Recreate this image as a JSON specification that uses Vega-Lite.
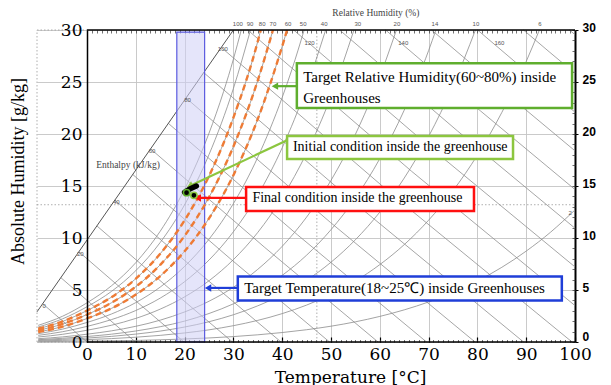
{
  "$schema": "https://vega.github.io/schema/vega-lite/v6.json",
  "width": 538,
  "height": 312,
  "autosize": {"type": "none"},
  "padding": {"left": 37, "top": 30, "right": 36, "bottom": 43},
  "background": "white",
  "config": {"view": {"stroke": null}},
  "resolve": {"axis": {"x": "independent", "y": "independent"}},
  "datasets": {
    "rh": [
      {"rh":100,"T":-10,"w":1.60},{"rh":100,"T":-5,"w":2.48},{"rh":100,"T":0,"w":3.77},{"rh":100,"T":5,"w":5.40},{"rh":100,"T":10,"w":7.63},{"rh":100,"T":15,"w":10.65},{"rh":100,"T":20,"w":14.70},{"rh":100,"T":25,"w":20.08},{"rh":100,"T":28,"w":24.10},{"rh":100,"T":30,"w":27.20},{"rh":100,"T":31.6,"w":30},
      {"rh":90,"T":-10,"w":1.44},{"rh":90,"T":-5,"w":2.23},{"rh":90,"T":0,"w":3.39},{"rh":90,"T":5,"w":4.86},{"rh":90,"T":10,"w":6.86},{"rh":90,"T":15,"w":9.57},{"rh":90,"T":20,"w":13.20},{"rh":90,"T":25,"w":18.02},{"rh":90,"T":30,"w":24.38},{"rh":90,"T":33.5,"w":30},
      {"rh":80,"T":-10,"w":1.28},{"rh":80,"T":-5,"w":1.98},{"rh":80,"T":0,"w":3.02},{"rh":80,"T":5,"w":4.31},{"rh":80,"T":10,"w":6.09},{"rh":80,"T":15,"w":8.49},{"rh":80,"T":20,"w":11.70},{"rh":80,"T":25,"w":15.96},{"rh":80,"T":30,"w":21.58},{"rh":80,"T":35,"w":28.92},{"rh":80,"T":35.6,"w":30},
      {"rh":70,"T":-10,"w":1.12},{"rh":70,"T":-5,"w":1.73},{"rh":70,"T":0,"w":2.64},{"rh":70,"T":5,"w":3.77},{"rh":70,"T":10,"w":5.32},{"rh":70,"T":15,"w":7.42},{"rh":70,"T":20,"w":10.21},{"rh":70,"T":25,"w":13.92},{"rh":70,"T":30,"w":18.80},{"rh":70,"T":35,"w":25.16},{"rh":70,"T":38.1,"w":30},
      {"rh":60,"T":-10,"w":0.96},{"rh":60,"T":-5,"w":1.48},{"rh":60,"T":0,"w":2.26},{"rh":60,"T":5,"w":3.23},{"rh":60,"T":10,"w":4.56},{"rh":60,"T":15,"w":6.34},{"rh":60,"T":20,"w":8.73},{"rh":60,"T":25,"w":11.89},{"rh":60,"T":30,"w":16.04},{"rh":60,"T":35,"w":21.45},{"rh":60,"T":40,"w":28.44},{"rh":60,"T":41.0,"w":30},
      {"rh":50,"T":-10,"w":0.80},{"rh":50,"T":-5,"w":1.24},{"rh":50,"T":0,"w":1.88},{"rh":50,"T":5,"w":2.69},{"rh":50,"T":10,"w":3.79},{"rh":50,"T":15,"w":5.28},{"rh":50,"T":20,"w":7.27},{"rh":50,"T":25,"w":9.88},{"rh":50,"T":30,"w":13.31},{"rh":50,"T":35,"w":17.77},{"rh":50,"T":40,"w":23.52},{"rh":50,"T":42,"w":26.22},{"rh":50,"T":44.5,"w":30},
      {"rh":40,"T":-10,"w":0.64},{"rh":40,"T":-5,"w":0.99},{"rh":40,"T":0,"w":1.50},{"rh":40,"T":5,"w":2.15},{"rh":40,"T":10,"w":3.03},{"rh":40,"T":15,"w":4.22},{"rh":40,"T":20,"w":5.80},{"rh":40,"T":25,"w":7.88},{"rh":40,"T":30,"w":10.60},{"rh":40,"T":35,"w":14.13},{"rh":40,"T":40,"w":18.68},{"rh":40,"T":45,"w":24.48},{"rh":40,"T":48.9,"w":30},
      {"rh":30,"T":-10,"w":0.48},{"rh":30,"T":-5,"w":0.74},{"rh":30,"T":0,"w":1.13},{"rh":30,"T":5,"w":1.61},{"rh":30,"T":10,"w":2.27},{"rh":30,"T":15,"w":3.16},{"rh":30,"T":20,"w":4.34},{"rh":30,"T":25,"w":5.89},{"rh":30,"T":30,"w":7.92},{"rh":30,"T":35,"w":10.54},{"rh":30,"T":40,"w":13.90},{"rh":30,"T":45,"w":18.18},{"rh":30,"T":50,"w":23.61},{"rh":30,"T":54.7,"w":30},
      {"rh":20,"T":-10,"w":0.32},{"rh":20,"T":-5,"w":0.49},{"rh":20,"T":0,"w":0.75},{"rh":20,"T":5,"w":1.07},{"rh":20,"T":10,"w":1.51},{"rh":20,"T":15,"w":2.10},{"rh":20,"T":20,"w":2.89},{"rh":20,"T":25,"w":3.92},{"rh":20,"T":30,"w":5.26},{"rh":20,"T":35,"w":6.99},{"rh":20,"T":40,"w":9.20},{"rh":20,"T":45,"w":12.01},{"rh":20,"T":50,"w":15.54},{"rh":20,"T":55,"w":19.97},{"rh":20,"T":60,"w":25.50},{"rh":20,"T":63.4,"w":30},
      {"rh":14,"T":-10,"w":0.22},{"rh":14,"T":0,"w":0.53},{"rh":14,"T":5,"w":0.75},{"rh":14,"T":10,"w":1.06},{"rh":14,"T":15,"w":1.47},{"rh":14,"T":20,"w":2.01},{"rh":14,"T":25,"w":2.74},{"rh":14,"T":30,"w":3.67},{"rh":14,"T":35,"w":4.87},{"rh":14,"T":40,"w":6.41},{"rh":14,"T":45,"w":8.35},{"rh":14,"T":50,"w":10.80},{"rh":14,"T":55,"w":13.84},{"rh":14,"T":60,"w":17.63},{"rh":14,"T":65,"w":22.29},{"rh":14,"T":70,"w":28.02},{"rh":14,"T":71.5,"w":30},
      {"rh":10,"T":-10,"w":0.16},{"rh":10,"T":0,"w":0.38},{"rh":10,"T":5,"w":0.54},{"rh":10,"T":10,"w":0.76},{"rh":10,"T":15,"w":1.05},{"rh":10,"T":20,"w":1.44},{"rh":10,"T":25,"w":1.95},{"rh":10,"T":30,"w":2.62},{"rh":10,"T":35,"w":3.48},{"rh":10,"T":40,"w":4.56},{"rh":10,"T":45,"w":5.94},{"rh":10,"T":50,"w":7.67},{"rh":10,"T":55,"w":9.83},{"rh":10,"T":60,"w":12.49},{"rh":10,"T":65,"w":15.76},{"rh":10,"T":70,"w":19.76},{"rh":10,"T":75,"w":24.63},{"rh":10,"T":79.6,"w":30},
      {"rh":6,"T":-10,"w":0.10},{"rh":6,"T":0,"w":0.23},{"rh":6,"T":10,"w":0.46},{"rh":6,"T":20,"w":0.87},{"rh":6,"T":25,"w":1.17},{"rh":6,"T":30,"w":1.57},{"rh":6,"T":35,"w":2.08},{"rh":6,"T":40,"w":2.73},{"rh":6,"T":45,"w":3.55},{"rh":6,"T":50,"w":4.58},{"rh":6,"T":55,"w":5.86},{"rh":6,"T":60,"w":7.44},{"rh":6,"T":65,"w":9.36},{"rh":6,"T":70,"w":11.71},{"rh":6,"T":75,"w":14.55},{"rh":6,"T":80,"w":17.97},{"rh":6,"T":85,"w":22.07},{"rh":6,"T":90,"w":26.97},{"rh":6,"T":92.7,"w":30},
      {"rh":2,"T":-10,"w":0.03},{"rh":2,"T":0,"w":0.08},{"rh":2,"T":10,"w":0.15},{"rh":2,"T":20,"w":0.29},{"rh":2,"T":30,"w":0.52},{"rh":2,"T":40,"w":0.91},{"rh":2,"T":45,"w":1.18},{"rh":2,"T":50,"w":1.52},{"rh":2,"T":55,"w":1.94},{"rh":2,"T":60,"w":2.46},{"rh":2,"T":65,"w":3.09},{"rh":2,"T":70,"w":3.85},{"rh":2,"T":75,"w":4.78},{"rh":2,"T":80,"w":5.87},{"rh":2,"T":85,"w":7.18},{"rh":2,"T":90,"w":8.74},{"rh":2,"T":95,"w":10.56},{"rh":2,"T":100,"w":12.70}
    ],
    "enth": [
      {"h":0,"T":-9.09,"w":3.68},{"h":0,"T":-4.5,"w":1.82},{"h":0,"T":0,"w":0},
      {"h":10,"T":-5.37,"w":6.19},{"h":10,"T":2.3,"w":3.07},{"h":10,"T":9.94,"w":0},
      {"h":20,"T":-1.67,"w":8.68},{"h":20,"T":9.1,"w":4.31},{"h":20,"T":19.88,"w":0},
      {"h":30,"T":2.03,"w":11.16},{"h":30,"T":15.9,"w":5.53},{"h":30,"T":29.82,"w":0},
      {"h":40,"T":5.70,"w":13.64},{"h":40,"T":22.7,"w":6.75},{"h":40,"T":39.76,"w":0},
      {"h":50,"T":9.37,"w":16.11},{"h":50,"T":29.5,"w":7.95},{"h":50,"T":49.70,"w":0},
      {"h":60,"T":13.03,"w":18.57},{"h":60,"T":36.3,"w":9.14},{"h":60,"T":59.64,"w":0},
      {"h":70,"T":16.67,"w":21.02},{"h":70,"T":43.1,"w":10.32},{"h":70,"T":69.58,"w":0},
      {"h":80,"T":20.30,"w":23.46},{"h":80,"T":49.9,"w":11.49},{"h":80,"T":79.52,"w":0},
      {"h":90,"T":23.92,"w":25.90},{"h":90,"T":56.7,"w":12.65},{"h":90,"T":89.46,"w":0},
      {"h":100,"T":27.52,"w":28.32},{"h":100,"T":63.5,"w":13.79},{"h":100,"T":99.40,"w":0},
      {"h":110,"T":32.93,"w":30},{"h":110,"T":66.5,"w":16.42},{"h":110,"T":100,"w":3.50},
      {"h":120,"T":42.35,"w":30},{"h":120,"T":71.2,"w":18.37},{"h":120,"T":100,"w":7.22},
      {"h":130,"T":51.77,"w":30},{"h":130,"T":75.9,"w":20.30},{"h":130,"T":100,"w":10.94},
      {"h":140,"T":61.19,"w":30},{"h":140,"T":80.6,"w":22.23},{"h":140,"T":100,"w":14.66},
      {"h":150,"T":70.61,"w":30},{"h":150,"T":85.3,"w":24.13},{"h":150,"T":100,"w":18.38},
      {"h":160,"T":80.03,"w":30},{"h":160,"T":90.0,"w":26.03},{"h":160,"T":100,"w":22.10},
      {"h":170,"T":89.45,"w":30},{"h":170,"T":94.7,"w":27.91},{"h":170,"T":100,"w":25.83},
      {"h":180,"T":98.87,"w":30},{"h":180,"T":100,"w":29.55}
    ],
    "hscale": [{"T":-10.25,"w":2.90},{"T":30,"w":30}],
    "hlab": [
      {"label":"0","T":-9.09,"w":3.68},{"label":"20","T":-1.67,"w":8.68},{"label":"40","T":5.70,"w":13.64},
      {"label":"60","T":13.03,"w":18.57},{"label":"80","T":20.30,"w":23.46},{"label":"100","T":27.52,"w":28.32},
      {"label":"120","T":45.3,"w":28.9},{"label":"140","T":64.5,"w":28.9},{"label":"160","T":84.2,"w":28.9}
    ],
    "rhlab": [
      {"label":"100","T":30.9,"w":30.6},{"label":"90","T":33.4,"w":30.6},{"label":"80","T":35.9,"w":30.6},
      {"label":"70","T":38.1,"w":30.6},{"label":"60","T":41.2,"w":30.6},{"label":"50","T":44.3,"w":30.6},
      {"label":"40","T":48.6,"w":30.6},{"label":"30","T":55.5,"w":30.6},{"label":"20","T":63.5,"w":30.6},
      {"label":"14","T":71.3,"w":30.6},{"label":"10","T":79.7,"w":30.6},{"label":"6","T":92.8,"w":30.6},
      {"label":"2","T":99.0,"w":12.4}
    ],
    "captions": [
      {"label":"Relative Humidity (%)","T":59.2,"w":31.6},
      {"label":"Enthalpy (kJ/kg)","T":8.4,"w":17.0}
    ],
    "frame": [
      {"kind":"solid","T":0,"T2":100,"w":30,"w2":30},
      {"kind":"solid","T":0,"T2":100,"w":0,"w2":0},
      {"kind":"dot","T":-10.25,"T2":0,"w":30,"w2":30},
      {"kind":"dot","T":-10.25,"T2":0,"w":0,"w2":0},
      {"kind":"dot","T":-10.25,"T2":-10.25,"w":0,"w2":30},
      {"kind":"dot","T":-10.25,"T2":100,"w":13.2,"w2":13.2},
      {"kind":"dot","T":47.1,"T2":47.1,"w":0,"w2":30}
    ],
    "band": [{"T":18.4,"T2":24.1,"w":0,"w2":29.8}],
    "boxes": [
      {"box":1,"T":43.0,"T2":99.4,"w":22.5,"w2":26.8},
      {"box":2,"T":41.0,"T2":87.3,"w":17.6,"w2":19.8},
      {"box":3,"T":32.6,"T2":79.3,"w":12.6,"w2":14.9},
      {"box":4,"T":30.9,"T2":97.3,"w":4.0,"w2":6.3}
    ],
    "notes": [
      {"box":1,"label":"Target Relative Humidity(60~80%) inside","T":44.3,"w":25.5},
      {"box":1,"label":"Greenhouses","T":44.3,"w":23.5},
      {"box":2,"label":"Initial condition inside the greenhouse","T":42.2,"w":18.75},
      {"box":3,"label":"Final condition inside the greenhouse","T":33.9,"w":13.8},
      {"box":4,"label":"Target Temperature(18~25℃) inside Greenhouses","T":32.2,"w":5.15}
    ],
    "arrows": [
      {"box":1,"T":43.0,"w":24.6},{"box":1,"T":38.6,"w":24.6},
      {"box":2,"T":41.0,"w":19.4},{"box":2,"T":21.05,"w":15.0},
      {"box":3,"T":32.6,"w":13.85},{"box":3,"T":22.7,"w":13.85},
      {"box":4,"T":30.9,"w":5.2},{"box":4,"T":24.8,"w":5.2}
    ],
    "heads": [
      {"box":1,"T":38.5,"w":24.6},
      {"box":2,"T":21.05,"w":15.0},
      {"box":3,"T":22.7,"w":13.85},
      {"box":4,"T":24.8,"w":5.2}
    ],
    "path": [{"T":20.0,"w":14.4},{"T":21.0,"w":14.7},{"T":22.4,"w":15.0}],
    "states": [
      {"state":"initial","T":20.4,"w":14.36},
      {"state":"final","T":21.9,"w":14.1}
    ]
  },
  "layer": [
    {
      "data": {"name": "frame"},
      "transform": [{"filter": "datum.kind === 'dot'"}],
      "mark": {"type": "rule", "color": "#9a9a9a", "strokeWidth": 0.8, "strokeDash": [1.5, 2]},
      "encoding": {
        "x": {"field": "T", "type": "quantitative", "scale": {"domain": [-10.25, 100], "nice": false, "zero": false},
          "axis": {"orient": "bottom", "values": [0,10,20,30,40,50,60,70,80,90,100], "ticks": false, "domain": false, "grid": true, "gridColor": "#c4c4c4", "gridWidth": 0.9,
            "labelFont": "DejaVu Serif", "labelFontSize": 17, "labelColor": "#000", "labelPadding": 4, "labelFlush": false,
            "title": "Temperature [°C]", "titleFont": "DejaVu Serif", "titleFontSize": 17, "titleFontWeight": "normal", "titleColor": "#000",
            "titleX": 313, "titleY": 35, "titleBaseline": "middle", "titleAlign": "center"}},
        "x2": {"field": "T2"},
        "y": {"field": "w", "type": "quantitative", "scale": {"domain": [0, 30], "nice": false, "zero": false},
          "axis": {"orient": "right", "values": [0,5,10,15,20,25,30], "labelFont": "Liberation Sans", "labelFontSize": 12, "labelFontWeight": "bold", "labelColor": "#000",
            "labelPadding": 4, "labelOffset": {"condition": {"test": "datum.value === 0", "value": -6}, "value": -2.5}, "labelFlush": false, "ticks": true, "tickSize": 3, "tickColor": "#000", "domain": true, "domainColor": "#000", "domainWidth": 2,
            "grid": true, "gridColor": "#c4c4c4", "gridWidth": 0.9, "title": null}},
        "y2": {"field": "w2"}
      }
    },
    {
      "data": {"name": "enth"},
      "mark": {"type": "line", "color": "#8f8f8f", "strokeWidth": 0.8},
      "encoding": {
        "x": {"field": "T", "type": "quantitative", "scale": {"domain": [-10.25, 100], "nice": false, "zero": false},
          "axis": {"orient": "bottom", "values": [0,10,20,30,40,50,60,70,80,90,100], "labels": false, "domain": false, "grid": false, "ticks": true, "tickSize": -5, "tickColor": "#000", "tickWidth": 1.2, "title": null}},
        "y": {"field": "w", "type": "quantitative", "scale": {"domain": [0, 30], "nice": false, "zero": false},
          "axis": {"orient": "right", "values": [0,1,2,3,4,5,6,7,8,9,10,11,12,13,14,15,16,17,18,19,20,21,22,23,24,25,26,27,28,29,30], "labels": false, "domain": false, "grid": false, "ticks": true, "tickSize": -3, "tickColor": "#333", "tickWidth": 0.7, "title": null}},
        "detail": {"field": "h", "type": "nominal"}
      }
    },
    {
      "data": {"name": "rh"},
      "mark": {"type": "line", "color": "#8c8c8c", "strokeWidth": 0.8, "interpolate": "monotone"},
      "encoding": {
        "x": {"field": "T", "type": "quantitative", "scale": {"domain": [-10.25, 100], "nice": false, "zero": false},
          "axis": {"orient": "bottom", "values": [0,1,2,3,4,5,6,7,8,9,10,11,12,13,14,15,16,17,18,19,20,21,22,23,24,25,26,27,28,29,30,31,32,33,34,35,36,37,38,39,40,41,42,43,44,45,46,47,48,49,50,51,52,53,54,55,56,57,58,59,60,61,62,63,64,65,66,67,68,69,70,71,72,73,74,75,76,77,78,79,80,81,82,83,84,85,86,87,88,89,90,91,92,93,94,95,96,97,98,99,100],
            "labels": false, "domain": false, "grid": false, "ticks": true, "tickSize": -2.5, "tickColor": "#333", "tickWidth": 0.7, "title": null}},
        "y": {"field": "w", "type": "quantitative", "scale": {"domain": [0, 30], "nice": false, "zero": false}, "axis": null},
        "detail": {"field": "rh", "type": "nominal"}
      }
    },
    {
      "data": {"name": "hscale"},
      "mark": {"type": "line", "color": "#555555", "strokeWidth": 1},
      "encoding": {
        "x": {"field": "T", "type": "quantitative", "scale": {"domain": [-10.25, 100], "nice": false, "zero": false},
          "axis": {"orient": "top", "values": [0,1,2,3,4,5,6,7,8,9,10,11,12,13,14,15,16,17,18,19,20,21,22,23,24,25,26,27,28,29,30,31,32,33,34,35,36,37,38,39,40,41,42,43,44,45,46,47,48,49,50,51,52,53,54,55,56,57,58,59,60,61,62,63,64,65,66,67,68,69,70,71,72,73,74,75,76,77,78,79,80,81,82,83,84,85,86,87,88,89,90,91,92,93,94,95,96,97,98,99,100],
            "labels": false, "domain": false, "grid": false, "ticks": true, "tickSize": -3, "tickColor": "#333", "tickWidth": 0.7, "title": null}},
        "y": {"field": "w", "type": "quantitative", "scale": {"domain": [0, 30], "nice": false, "zero": false},
          "axis": {"orient": "left", "offset": -50, "values": [0,5,10,15,20,25,30], "ticks": false, "domain": true, "domainColor": "#000", "domainWidth": 1.5, "grid": false,
            "labelFont": "DejaVu Serif", "labelFontSize": 17, "labelColor": "#000", "labelPadding": 5, "labelFlush": false,
            "title": "Absolute Humidity [g/kg]", "titleFont": "Liberation Serif", "titleFontSize": 18, "titleFontWeight": "normal", "titleColor": "#000",
            "titleX": -69, "titleY": 141, "titleBaseline": "middle", "titleAlign": "center", "zindex": 1}}
      }
    },
    {
      "data": {"name": "band"},
      "mark": {"type": "rect", "fill": "#cfcff5", "fillOpacity": 0.55, "stroke": "#5c5ce0", "strokeWidth": 1.2},
      "encoding": {
        "x": {"field": "T", "type": "quantitative", "scale": {"domain": [-10.25, 100], "nice": false, "zero": false}, "axis": null},
        "x2": {"field": "T2"},
        "y": {"field": "w", "type": "quantitative", "scale": {"domain": [0, 30], "nice": false, "zero": false}, "axis": null},
        "y2": {"field": "w2"}
      }
    },
    {
      "data": {"name": "rh"},
      "transform": [{"filter": {"field": "rh", "oneOf": [60, 70, 80]}}],
      "mark": {"type": "line", "color": "#ee7b35", "strokeWidth": 2.4, "strokeDash": [6, 4], "interpolate": "monotone"},
      "encoding": {
        "x": {"field": "T", "type": "quantitative", "scale": {"domain": [-10.25, 100], "nice": false, "zero": false}, "axis": null},
        "y": {"field": "w", "type": "quantitative", "scale": {"domain": [0, 30], "nice": false, "zero": false}, "axis": null},
        "detail": {"field": "rh", "type": "nominal"}
      }
    },
    {
      "data": {"name": "frame"},
      "transform": [{"filter": "datum.kind === 'solid'"}],
      "mark": {"type": "rule", "color": "#000", "strokeWidth": 1.4},
      "encoding": {
        "x": {"field": "T", "type": "quantitative", "scale": {"domain": [-10.25, 100], "nice": false, "zero": false}, "axis": null},
        "x2": {"field": "T2"},
        "y": {"field": "w", "type": "quantitative", "scale": {"domain": [0, 30], "nice": false, "zero": false}, "axis": null},
        "y2": {"field": "w2"}
      }
    },
    {
      "data": {"name": "hlab"},
      "mark": {"type": "text", "font": "Liberation Sans", "fontSize": 6, "color": "#555", "align": "center", "baseline": "middle", "dx": 1.5, "dy": 2},
      "encoding": {
        "x": {"field": "T", "type": "quantitative", "scale": {"domain": [-10.25, 100], "nice": false, "zero": false}, "axis": null},
        "y": {"field": "w", "type": "quantitative", "scale": {"domain": [0, 30], "nice": false, "zero": false}, "axis": null},
        "text": {"field": "label"}
      }
    },
    {
      "data": {"name": "rhlab"},
      "mark": {"type": "text", "font": "Liberation Sans", "fontSize": 6, "color": "#555", "align": "center", "baseline": "middle"},
      "encoding": {
        "x": {"field": "T", "type": "quantitative", "scale": {"domain": [-10.25, 100], "nice": false, "zero": false}, "axis": null},
        "y": {"field": "w", "type": "quantitative", "scale": {"domain": [0, 30], "nice": false, "zero": false}, "axis": null},
        "text": {"field": "label"}
      }
    },
    {
      "data": {"name": "captions"},
      "mark": {"type": "text", "font": "Liberation Serif", "fontSize": 9.5, "color": "#444", "align": "center", "baseline": "middle"},
      "encoding": {
        "x": {"field": "T", "type": "quantitative", "scale": {"domain": [-10.25, 100], "nice": false, "zero": false}, "axis": null},
        "y": {"field": "w", "type": "quantitative", "scale": {"domain": [0, 30], "nice": false, "zero": false}, "axis": null},
        "text": {"field": "label"}
      }
    },
    {
      "data": {"name": "arrows"},
      "mark": {"type": "line", "strokeWidth": 2.2},
      "encoding": {
        "x": {"field": "T", "type": "quantitative", "scale": {"domain": [-10.25, 100], "nice": false, "zero": false}, "axis": null},
        "y": {"field": "w", "type": "quantitative", "scale": {"domain": [0, 30], "nice": false, "zero": false}, "axis": null},
        "detail": {"field": "box", "type": "nominal"},
        "stroke": {"field": "box", "type": "nominal", "scale": {"domain": [1, 2, 3, 4], "range": ["#5fae2e", "#8cc63f", "#ff1010", "#1f3ed8"]}, "legend": null}
      }
    },
    {
      "data": {"name": "heads"},
      "transform": [{"filter": "datum.box !== 2"}],
      "mark": {"type": "point", "shape": "triangle-left", "filled": true, "size": 55, "opacity": 1},
      "encoding": {
        "x": {"field": "T", "type": "quantitative", "scale": {"domain": [-10.25, 100], "nice": false, "zero": false}, "axis": null},
        "y": {"field": "w", "type": "quantitative", "scale": {"domain": [0, 30], "nice": false, "zero": false}, "axis": null},
        "color": {"field": "box", "type": "nominal", "scale": {"domain": [1, 2, 3, 4], "range": ["#5fae2e", "#8cc63f", "#ff1010", "#1f3ed8"]}, "legend": null}
      }
    },
    {
      "data": {"name": "heads"},
      "transform": [{"filter": "datum.box === 2"}],
      "mark": {"type": "point", "shape": "triangle-left", "filled": true, "size": 55, "opacity": 1, "angle": 335},
      "encoding": {
        "x": {"field": "T", "type": "quantitative", "scale": {"domain": [-10.25, 100], "nice": false, "zero": false}, "axis": null},
        "y": {"field": "w", "type": "quantitative", "scale": {"domain": [0, 30], "nice": false, "zero": false}, "axis": null},
        "color": {"field": "box", "type": "nominal", "scale": {"domain": [1, 2, 3, 4], "range": ["#5fae2e", "#8cc63f", "#ff1010", "#1f3ed8"]}, "legend": null}
      }
    },
    {
      "data": {"name": "path"},
      "mark": {"type": "line", "color": "#000", "strokeWidth": 5.5, "strokeCap": "round"},
      "encoding": {
        "x": {"field": "T", "type": "quantitative", "scale": {"domain": [-10.25, 100], "nice": false, "zero": false}, "axis": null},
        "y": {"field": "w", "type": "quantitative", "scale": {"domain": [0, 30], "nice": false, "zero": false}, "axis": null}
      }
    },
    {
      "data": {"name": "states"},
      "mark": {"type": "point", "filled": false, "fill": "#000", "fillOpacity": 1, "size": 40, "strokeWidth": 1.6, "opacity": 1},
      "encoding": {
        "x": {"field": "T", "type": "quantitative", "scale": {"domain": [-10.25, 100], "nice": false, "zero": false}, "axis": null},
        "y": {"field": "w", "type": "quantitative", "scale": {"domain": [0, 30], "nice": false, "zero": false}, "axis": null},
        "stroke": {"field": "state", "type": "nominal", "scale": {"domain": ["initial", "final"], "range": ["#5ecb1f", "#ff1010"]}, "legend": null}
      }
    },
    {
      "data": {"name": "boxes"},
      "mark": {"type": "rect", "fill": "#ffffff", "strokeWidth": 2.5},
      "encoding": {
        "x": {"field": "T", "type": "quantitative", "scale": {"domain": [-10.25, 100], "nice": false, "zero": false}, "axis": null},
        "x2": {"field": "T2"},
        "y": {"field": "w", "type": "quantitative", "scale": {"domain": [0, 30], "nice": false, "zero": false}, "axis": null},
        "y2": {"field": "w2"},
        "stroke": {"field": "box", "type": "nominal", "scale": {"domain": [1, 2, 3, 4], "range": ["#5fae2e", "#8cc63f", "#ff1010", "#1f3ed8"]}, "legend": null}
      }
    },
    {
      "data": {"name": "notes"},
      "transform": [{"filter": "datum.box === 1 || datum.box === 4"}],
      "mark": {"type": "text", "font": "Liberation Serif", "fontSize": 15, "color": "#000", "align": "left", "baseline": "middle"},
      "encoding": {
        "x": {"field": "T", "type": "quantitative", "scale": {"domain": [-10.25, 100], "nice": false, "zero": false}, "axis": null},
        "y": {"field": "w", "type": "quantitative", "scale": {"domain": [0, 30], "nice": false, "zero": false}, "axis": null},
        "text": {"field": "label"}
      }
    },
    {
      "data": {"name": "notes"},
      "transform": [{"filter": "datum.box === 2 || datum.box === 3"}],
      "mark": {"type": "text", "font": "Liberation Serif", "fontSize": 14, "color": "#000", "align": "left", "baseline": "middle"},
      "encoding": {
        "x": {"field": "T", "type": "quantitative", "scale": {"domain": [-10.25, 100], "nice": false, "zero": false}, "axis": null},
        "y": {"field": "w", "type": "quantitative", "scale": {"domain": [0, 30], "nice": false, "zero": false}, "axis": null},
        "text": {"field": "label"}
      }
    }
  ]
}
